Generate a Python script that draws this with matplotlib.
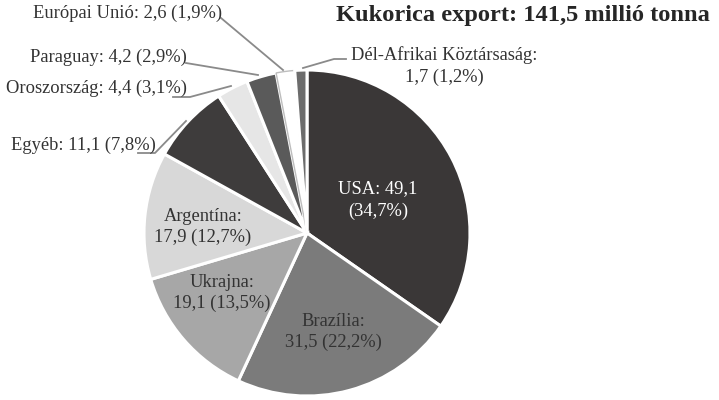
import matplotlib
matplotlib.use("Agg")
import matplotlib.pyplot as plt

countries = ["USA", "Brazília", "Ukrajna", "Argentína", "Egyéb", "Oroszország",
             "Paraguay", "Európai Unió", "Dél-Afrikai Köztársaság"]
values = [49.1, 31.5, 19.1, 17.9, 11.1, 4.4, 4.2, 2.6, 1.7]
value_labels = ["49,1", "31,5", "19,1", "17,9", "11,1", "4,4", "4,2", "2,6", "1,7"]
pct_labels = ["34,7%", "22,2%", "13,5%", "12,7%", "7,8%", "3,1%", "2,9%", "1,9%", "1,2%"]
colors = ["#3a3737", "#7b7b7b", "#a7a7a7", "#d8d8d8", "#3e3c3c", "#e6e6e6",
          "#5a5a5a", "#ffffff", "#6c6c6c"]
title = "Kukorica export: 141,5 millió tonna"

W, H = 719, 400
fig = plt.figure(figsize=(W / 100, H / 100), dpi=100)
ax = fig.add_axes([0, 0, 1, 1])

cx, cy, r = 307, H - 233, 163
wedges, _ = ax.pie(values, colors=colors, startangle=90, counterclock=False,
                   center=(cx, cy), radius=r, frame=True,
                   wedgeprops=dict(edgecolor="white", linewidth=2.2))
ax.set_xlim(0, W)
ax.set_ylim(0, H)
ax.set_aspect("equal")
ax.axis("off")
wedges[7].set_edgecolor("#bdbdbd")
wedges[7].set_linewidth(1.0)

font = ["Liberation Serif", "DejaVu Serif"]
fs = 13.3
tc = "#333333"

def lab(i, sep=" "):
    return f"{countries[i]}:{sep}{value_labels[i]} ({pct_labels[i]})"

# inside labels (pixel coords from top)
ax.text(378, H - 200, f"{countries[0]}: {value_labels[0]}\n({pct_labels[0]})",
        ha="center", va="center", fontsize=fs, family=font, color="white",
        linespacing=1.4)
inside = [(1, 333, 332, "#333333"), (2, 222, 293, "#333333"),
          (3, 203, 227, "#333333")]
for i, x, y, c in inside:
    ax.text(x, H - y, lab(i, "\n"), ha="center", va="center", fontsize=fs,
            family=font, color=c, linespacing=1.3)

lc = "#8a8a8a"
# outside labels
ax.text(128, H - 13, lab(7), ha="center", va="center", fontsize=fs, family=font, color=tc)
ax.plot([221, 283], [H - 18, H - 70], color=lc, lw=1.3)

ax.text(108, H - 57, lab(6), ha="center", va="center", fontsize=fs, family=font, color=tc)
ax.plot([186, 258], [H - 63, H - 75], color=lc, lw=1.3)

ax.text(96, H - 88, lab(5), ha="center", va="center", fontsize=fs, family=font, color=tc)
ax.plot([173, 190, 231], [H - 97, H - 97, H - 86], color=lc, lw=1.3)

ax.text(83, H - 145, lab(4), ha="center", va="center", fontsize=fs, family=font, color=tc)
ax.plot([138, 155, 186], [H - 153, H - 153, H - 121], color=lc, lw=1.3)

ax.text(444, H - 66, f"{countries[8]}:\n{value_labels[8]} ({pct_labels[8]})",
        ha="center", va="center", fontsize=fs, family=font, color=tc, linespacing=1.3)
ax.plot([346, 334, 303], [H - 59, H - 59, H - 68], color=lc, lw=1.3)

ax.text(710, H - 16, title, ha="right", va="center", fontsize=17.6,
        fontweight="bold", family=font, color="#262626")

fig.savefig("out.png", dpi=100)
